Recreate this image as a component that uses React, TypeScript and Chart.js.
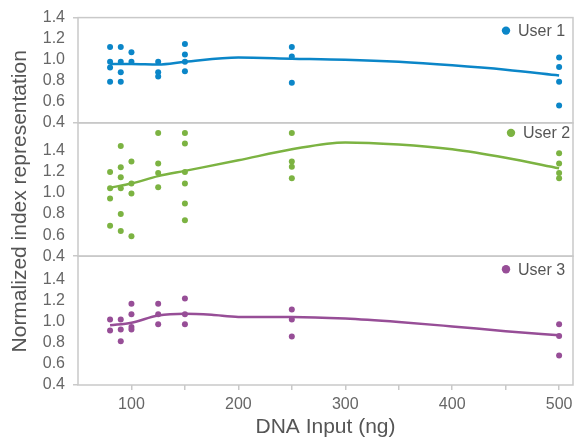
import React, { useEffect, useRef } from 'react';
import { Chart, registerables } from 'chart.js';

Chart.register(...registerables);

// ---- data ----
const seriesNames = ['User 1', 'User 2', 'User 3'];
const seriesColors = ['#0b86c8', '#7cb342', '#974e97'];

const xTicks = [100, 150, 200, 250, 300, 350, 400, 450, 500];
const xLabelTicks = [100, 200, 300, 400, 500];
const yTicks = [0.4, 0.6, 0.8, 1.0, 1.2, 1.4];

const user1Points: [number, number][] = [
  [80, 1.12], [80, 0.98], [80, 0.925], [80, 0.79],
  [90, 1.12], [90, 0.98], [90, 0.88], [90, 0.79],
  [100, 1.07], [100, 0.98],
  [125, 0.98], [125, 0.88], [125, 0.84],
  [150, 1.15], [150, 1.05], [150, 0.98], [150, 0.89],
  [250, 1.12], [250, 1.03], [250, 0.78],
  [500, 1.02], [500, 0.93], [500, 0.79], [500, 0.565],
];
const user2Points: [number, number][] = [
  [80, 1.2], [80, 1.045], [80, 0.947], [80, 0.69],
  [90, 1.447], [90, 1.245], [90, 1.15], [90, 1.045], [90, 0.8], [90, 0.64],
  [100, 1.3], [100, 1.09], [100, 0.995], [100, 0.59],
  [125, 1.57], [125, 1.28], [125, 1.19], [125, 1.055],
  [150, 1.57], [150, 1.47], [150, 1.2], [150, 1.09], [150, 0.9], [150, 0.74],
  [250, 1.57], [250, 1.3], [250, 1.25], [250, 1.14],
  [500, 1.378], [500, 1.28], [500, 1.19], [500, 1.14],
];
const user3Points: [number, number][] = [
  [80, 1.02], [80, 0.915],
  [90, 1.02], [90, 0.925], [90, 0.815],
  [100, 1.17], [100, 1.07], [100, 0.95], [100, 0.925],
  [125, 1.17], [125, 1.07], [125, 0.975],
  [150, 1.22], [150, 1.07], [150, 0.975],
  [250, 1.115], [250, 1.02], [250, 0.86],
  [500, 0.975], [500, 0.865], [500, 0.68],
];

const user1Fit: [number, number][] = [
  [80, 0.96], [100, 0.96], [125, 0.955], [150, 0.98], [200, 1.02], [250, 1.01],
  [300, 1.0], [350, 0.98], [400, 0.947], [450, 0.905], [500, 0.85],
];
const user2Fit: [number, number][] = [
  [80, 1.05], [100, 1.09], [125, 1.16], [150, 1.21], [200, 1.31], [250, 1.415],
  [300, 1.48], [350, 1.46], [400, 1.415], [450, 1.335], [500, 1.235],
];
const user3Fit: [number, number][] = [
  [80, 0.965], [100, 0.99], [125, 1.058], [150, 1.075], [175, 1.065], [200, 1.045],
  [250, 1.045], [300, 1.03], [350, 0.997], [400, 0.955], [450, 0.91], [500, 0.87],
];

const allPoints = [user1Points, user2Points, user3Points];
const allFits = [user1Fit, user2Fit, user3Fit];

const xTitle = 'DNA Input (ng)';
const yTitle = 'Normalized index representation';

// ---- styling ----
const FONT = '"Liberation Sans", Arial, Helvetica, sans-serif';
const GRID = '#c9c9c9';
const TEXT = '#666666';
const axisIds = ['y1', 'y2', 'y3'];
const axisMax = [1.4, 1.666, 1.62];
const axisWeight = [105.4, 133.5, 129];
const legendOffsets = [
  { dx: 55, dy: 13 },
  { dx: 50, dy: 10 },
  { dx: 55, dy: 13 },
];

const toXY = (arr: [number, number][]) => arr.map(([x, y]) => ({ x, y }));

const decorPlugin = {
  id: 'decor',
  beforeDatasetsDraw(chart: any) {
    const { ctx, chartArea } = chart;
    ctx.save();
    ctx.strokeStyle = GRID;
    ctx.lineWidth = 1.5;
    axisIds.forEach((id) => {
      const s = chart.scales[id];
      ctx.strokeRect(chartArea.left, s.top, chartArea.right - chartArea.left, s.bottom - s.top);
    });
    ctx.restore();
  },
  afterDraw(chart: any) {
    const { ctx, chartArea } = chart;
    ctx.save();
    axisIds.forEach((id, i) => {
      const s = chart.scales[id];
      const tx = chartArea.right - legendOffsets[i].dx;
      const ty = s.top + legendOffsets[i].dy;
      ctx.fillStyle = seriesColors[i];
      ctx.beginPath();
      ctx.arc(tx - 12, ty, 4.2, 0, Math.PI * 2);
      ctx.fill();
      ctx.fillStyle = '#555555';
      ctx.font = `16px ${FONT}`;
      ctx.textAlign = 'left';
      ctx.textBaseline = 'middle';
      ctx.fillText(seriesNames[i], tx, ty + 1);
    });
    const cy = (chartArea.top + chartArea.bottom) / 2;
    ctx.translate(20, cy);
    ctx.rotate(-Math.PI / 2);
    ctx.fillStyle = '#555555';
    ctx.font = `21px ${FONT}`;
    ctx.textAlign = 'center';
    ctx.textBaseline = 'middle';
    ctx.fillText(yTitle, 0, 0);
    ctx.restore();
  },
};

export default function App() {
  const canvasRef = useRef<HTMLCanvasElement | null>(null);

  useEffect(() => {
    if (!canvasRef.current) return;
    const datasets: any[] = [];
    allPoints.forEach((pts, i) => {
      datasets.push({
        label: seriesNames[i],
        data: toXY(pts),
        yAxisID: axisIds[i],
        backgroundColor: seriesColors[i],
        borderColor: seriesColors[i],
        pointRadius: 3,
        pointBorderWidth: 0,
        pointHoverRadius: 3,
        showLine: false,
        order: 0,
      });
      datasets.push({
        label: seriesNames[i] + ' fit',
        data: toXY(allFits[i]),
        yAxisID: axisIds[i],
        borderColor: seriesColors[i],
        backgroundColor: seriesColors[i],
        borderWidth: 2.5,
        pointRadius: 0,
        showLine: true,
        cubicInterpolationMode: 'monotone',
        fill: false,
        order: 1,
      });
    });

    const yScale = (i: number) => ({
      type: 'linear',
      position: 'left',
      stack: 'panels',
      stackWeight: axisWeight[i],
      min: 0.4,
      max: axisMax[i],
      afterBuildTicks: (scale: any) => {
        scale.ticks = yTicks.map((v) => ({ value: v }));
      },
      afterFit: (scale: any) => {
        scale.width = 70;
      },
      border: { display: false },
      grid: {
        display: true,
        drawOnChartArea: false,
        drawTicks: true,
        tickLength: 5,
        lineWidth: 1.5,
        color: (c: any) =>
          c.tick && (c.tick.value === 0.4 || (i === 0 && c.tick.value === 1.4)) ? GRID : 'rgba(0,0,0,0)',
      },
      ticks: {
        color: TEXT,
        font: { family: FONT, size: 16 },
        padding: 8,
        autoSkip: false,
        callback: (v: any) => Number(v).toFixed(1),
      },
    });

    const chart = new Chart(canvasRef.current, {
      type: 'scatter',
      data: { datasets },
      plugins: [decorPlugin],
      options: {
        animation: false,
        responsive: false,
        events: [],
        layout: { padding: { left: 8, right: 10, top: 17, bottom: 0 } },
        plugins: { legend: { display: false }, tooltip: { enabled: false } },
        scales: {
          x: {
            type: 'linear',
            position: 'bottom',
            min: 50,
            max: 513,
            afterBuildTicks: (scale: any) => {
              scale.ticks = xTicks.map((v) => ({ value: v }));
            },
            afterFit: (scale: any) => {
              scale.height = 59;
            },
            border: { display: false },
            grid: {
              display: true,
              drawOnChartArea: false,
              drawTicks: true,
              tickLength: 5,
              lineWidth: 1.5,
              color: GRID,
            },
            ticks: {
              color: TEXT,
              font: { family: FONT, size: 16 },
              padding: 5,
              autoSkip: false,
              maxRotation: 0,
              callback: (v: any) => (xLabelTicks.includes(Number(v)) ? String(v) : ''),
            },
            title: {
              display: true,
              text: xTitle,
              color: '#555555',
              font: { family: FONT, size: 21 },
              padding: { top: 0, bottom: 4 },
            },
          },
          y3: yScale(2),
          y2: yScale(1),
          y1: yScale(0),
        } as any,
      },
    } as any);
    return () => chart.destroy();
  }, []);

  return (
    <div style={{ position: 'fixed', left: 0, top: 0, width: 583, height: 444, background: '#fff' }}>
      <canvas ref={canvasRef} width={583} height={444} style={{ display: 'block' }} />
    </div>
  );
}
